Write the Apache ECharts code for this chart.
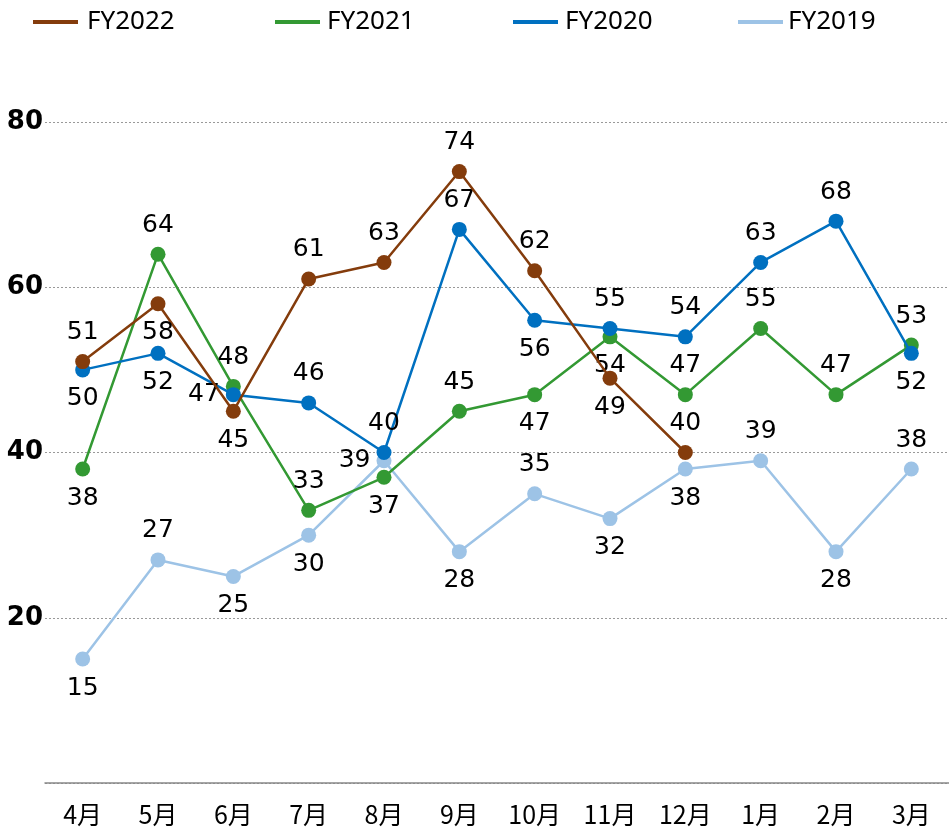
<!DOCTYPE html>
<html>
<head>
<meta charset="utf-8">
<script src="https://cdn.jsdelivr.net/npm/echarts@6/dist/echarts.min.js"></script>
<style>
  html, body { margin: 0; padding: 0; background: #fff; }
  #chart { width: 949px; height: 832px; }
</style>
</head>
<body>
<div id="chart"></div>
<script>
// Monthly index by fiscal year (April start)
const months = ['4月', '5月', '6月', '7月', '8月', '9月', '10月', '11月', '12月', '1月', '2月', '3月'];
const fy2022 = [51, 58, 45, 61, 63, 74, 62, 49, 40];
const fy2021 = [38, 64, 48, 33, 37, 45, 47, 54, 47, 55, 47, 53];
const fy2020 = [50, 52, 47, 46, 40, 67, 56, 55, 54, 63, 68, 52];
const fy2019 = [15, 27, 25, 30, 39, 28, 35, 32, 38, 39, 28, 38];
const yTicks = [20, 40, 60, 80];

// Where each value label sits relative to its point
const side2022 = ['top', 'bottom', 'bottom', 'top', 'top', 'top', 'top', 'bottom', 'top'];
const side2021 = ['bottom', 'top', 'top', 'top', 'bottom', 'top', 'bottom', 'bottom', 'top', 'top', 'top', 'top'];
const side2020 = ['bottom', 'bottom', 'left', 'top', 'top', 'top', 'bottom', 'top', 'top', 'top', 'top', 'bottom'];
const side2019 = ['bottom', 'top', 'bottom', 'bottom', 'left', 'bottom', 'top', 'bottom', 'bottom', 'top', 'bottom', 'top'];

const labelFont = 'DejaVu Sans, Verdana, sans-serif';

function points(values, sides) {
  return values.map((v, i) => ({
    value: v,
    label: { position: sides[i], distance: sides[i] === 'left' ? 6 : 9 }
  }));
}

function lineSeries(name, values, sides, color, z) {
  return {
    name: name,
    type: 'line',
    data: points(values, sides),
    z: z,
    symbol: 'circle',
    symbolSize: 15,
    lineStyle: { color: color, width: 2.5 },
    itemStyle: { color: color },
    label: {
      show: true,
      color: '#000',
      fontFamily: labelFont,
      fontSize: 25
    },
    emphasis: { disabled: true },
    animation: false
  };
}

function legendItem(name, left, gap) {
  return {
    data: [name],
    left: left,
    top: 4,
    icon: 'rect',
    itemWidth: 45,
    itemHeight: 4,
    selectedMode: false,
    textStyle: {
      fontFamily: 'Liberation Sans Narrow, Noto Sans, sans-serif',
      fontSize: 26,
      color: '#000',
      padding: [0, 0, 0, gap]
    }
  };
}

const chart = echarts.init(document.getElementById('chart'), null, { renderer: 'canvas' });
chart.setOption({
  backgroundColor: '#fff',
  legend: [
    legendItem('FY2022', 28, 4),
    legendItem('FY2021', 270, 2),
    legendItem('FY2020', 508, 2),
    legendItem('FY2019', 733, 0)
  ],
  grid: { left: 45, top: 122, width: 911, bottom: 49, containLabel: false },
  xAxis: {
    type: 'category',
    data: months,
    boundaryGap: true,
    axisLine: { lineStyle: { color: '#888', width: 1.5 } },
    axisTick: { show: false },
    axisLabel: {
      margin: 19,
      color: '#000',
      fontFamily: 'Noto Sans CJK JP, sans-serif',
      fontSize: 25
    }
  },
  yAxis: {
    type: 'value',
    min: 0,
    max: 80,
    interval: 20,
    axisLine: { show: false },
    axisTick: { show: false },
    axisLabel: {
      margin: 2,
      color: '#000',
      fontFamily: labelFont,
      fontWeight: 'bold',
      fontSize: 26,
      formatter: v => (yTicks.includes(v) ? String(v) : '')
    },
    splitLine: {
      lineStyle: { color: '#999', type: [2, 2], width: 1 }
    }
  },
  series: [
    lineSeries('FY2019', fy2019, side2019, '#9DC3E6', 2),
    lineSeries('FY2021', fy2021, side2021, '#339933', 3),
    lineSeries('FY2020', fy2020, side2020, '#0070C0', 4),
    lineSeries('FY2022', fy2022, side2022, '#843C0C', 5)
  ]
});
</script>
</body>
</html>
